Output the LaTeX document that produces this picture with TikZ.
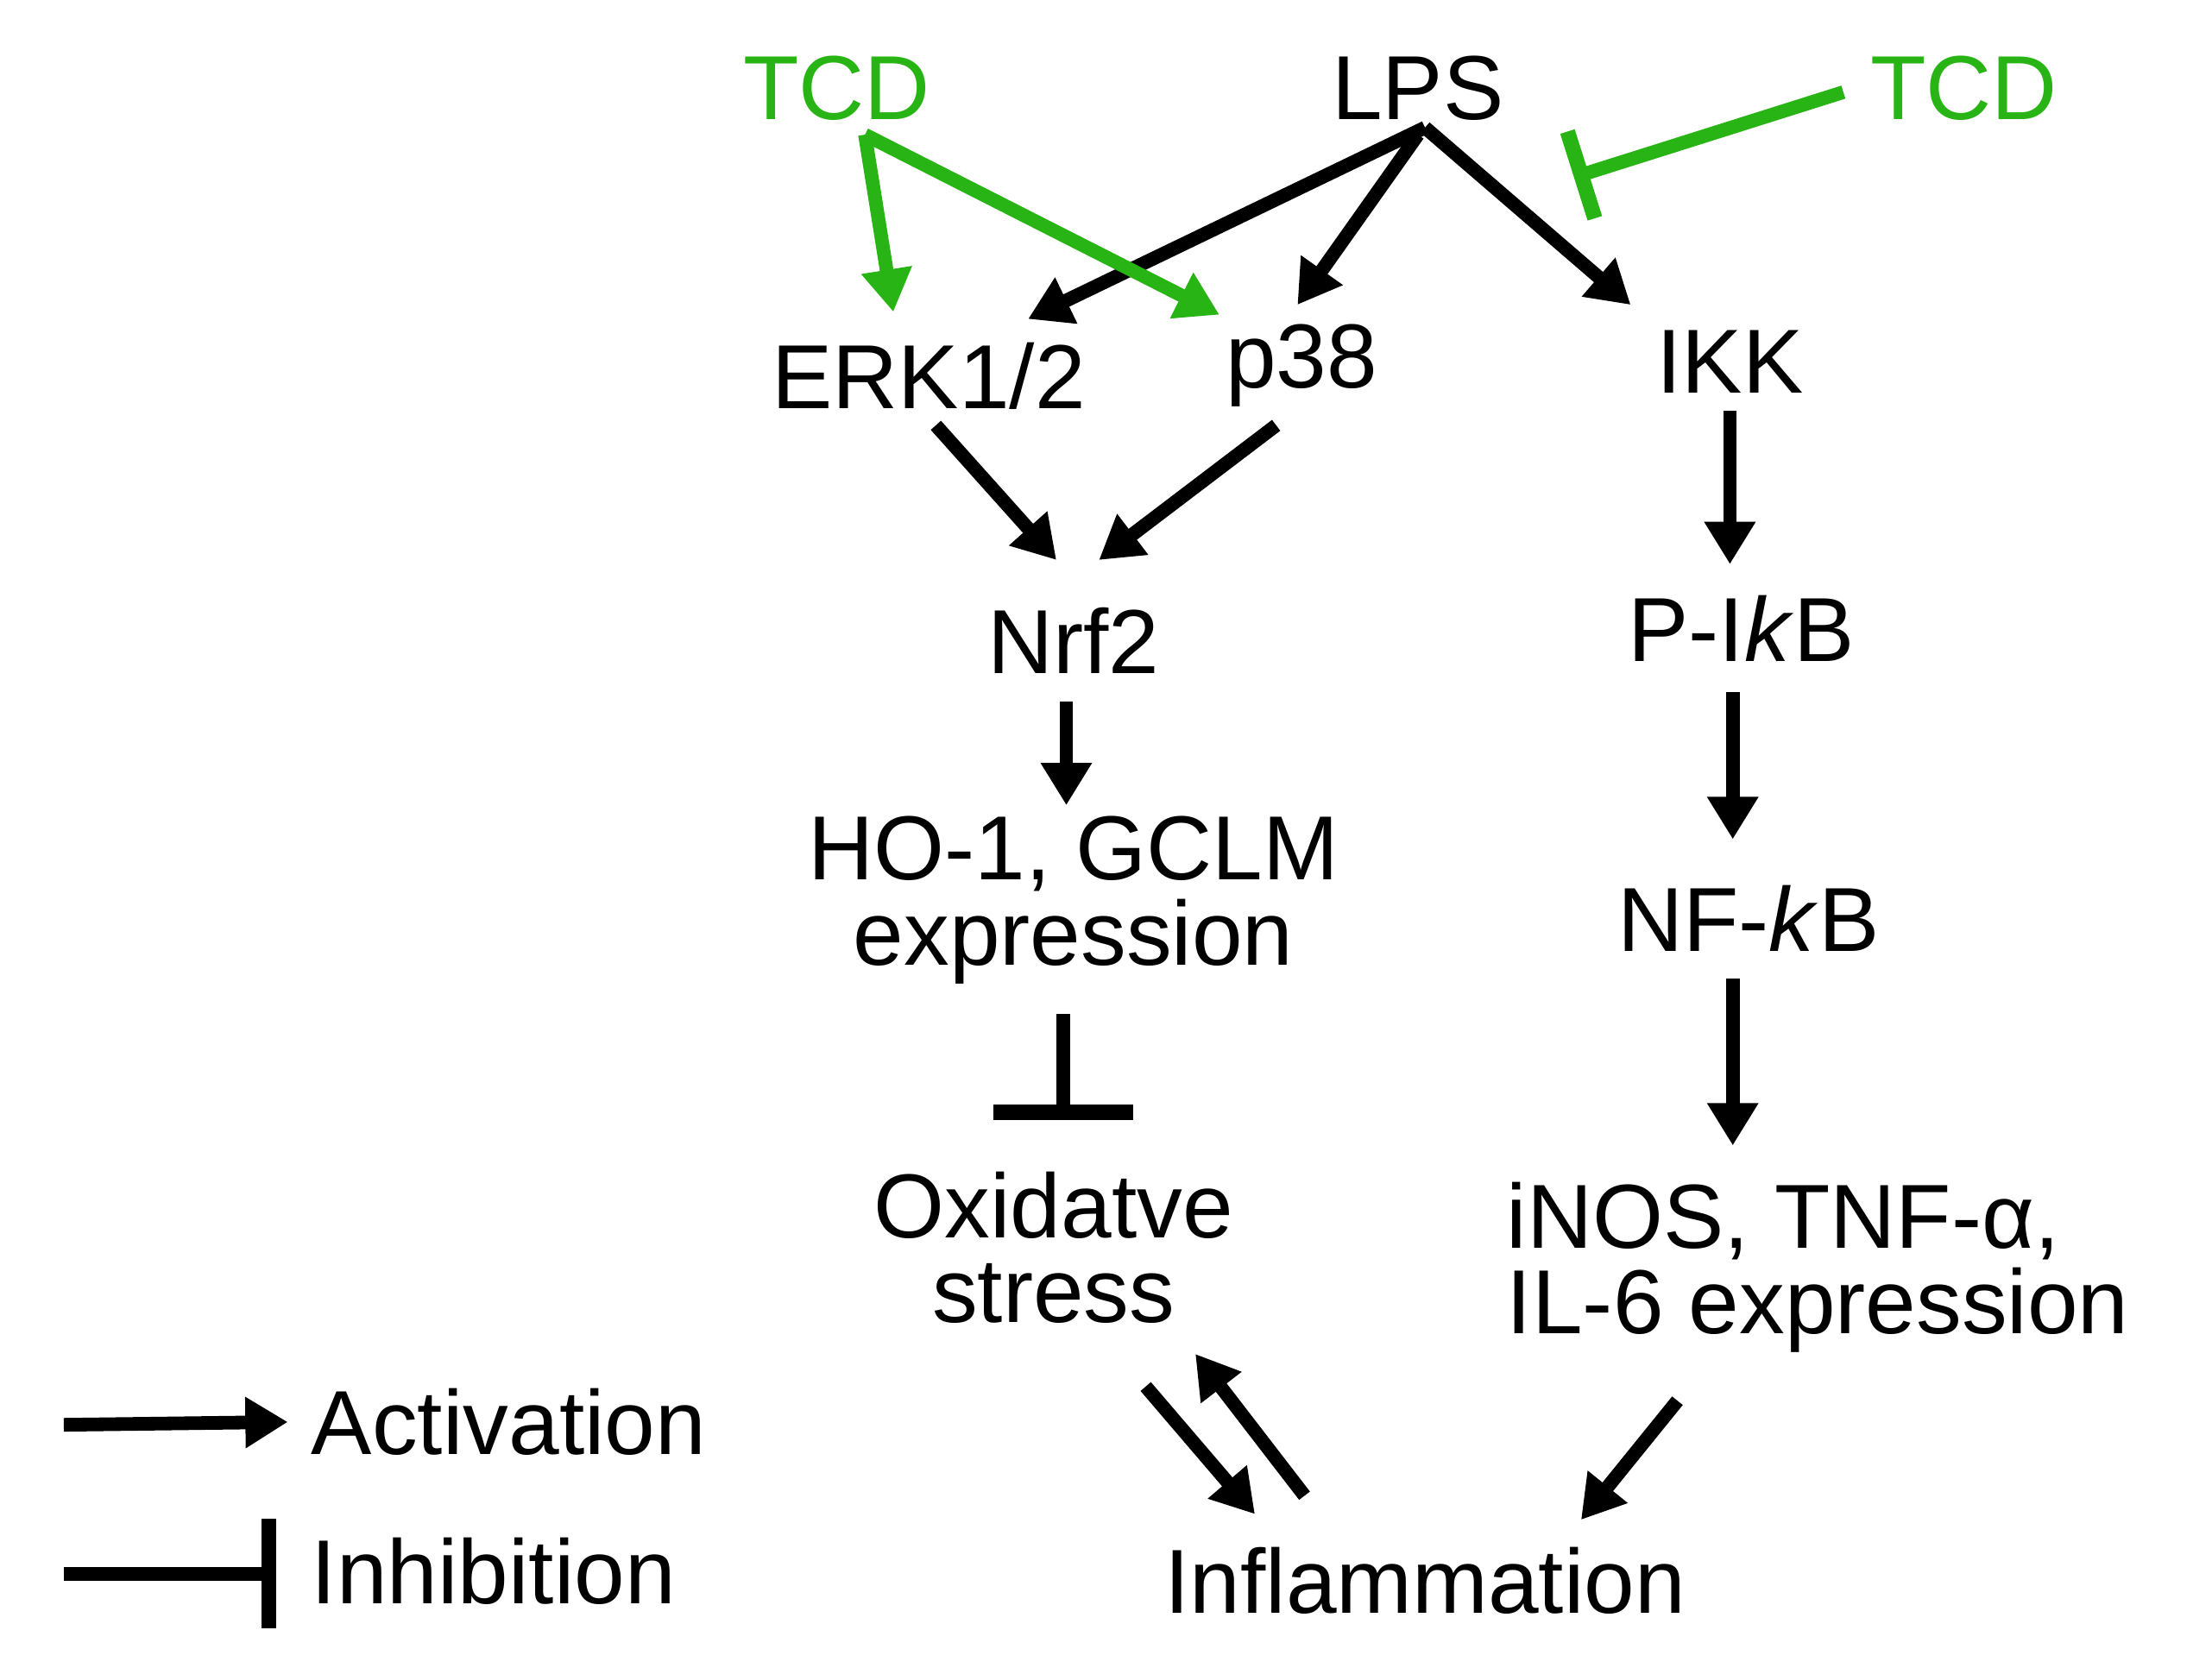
\documentclass[tikz,border=0pt]{standalone}
\usepackage{fontspec}
\setmainfont{Liberation Sans}
\usetikzlibrary{arrows.meta,calc}
\definecolor{tcdgreen}{RGB}{40,180,20}
\tikzset{lbl/.style={font=\fontsize{30}{34}\selectfont, inner sep=2pt, align=center},
  act/.style={line width=4.5pt, -{Triangle[length=14pt,width=16pt]}},
  inh/.style={line width=4.5pt, -{Bar[width=#1,line width=5pt]}}, inh/.default=30pt}
\begin{document}
\begin{tikzpicture}[x=0.01643cm, y=-0.01643cm]
  \useasboundingbox (0,0) rectangle (1560,1176);

  % nodes
  \node[lbl, text=tcdgreen] (tcdL) at (590,62) {TCD};
  \node[lbl] (lps) at (1000,62) {LPS};
  \node[lbl, text=tcdgreen] (tcdR) at (1385,62) {TCD};
  \node[lbl] (erk) at (655,265) {ERK1/2};
  \node[lbl] (p38) at (918,258) {p38};
  \node[lbl] (ikk) at (1220,255) {IKK};
  \node[lbl] (nrf) at (757,452) {Nrf2};
  \node[lbl] (pikb) at (1228,443) {P-I\textit{k}B};
  \node[lbl] (ho) at (757,635) {HO-1, GCLM\\[-6pt]expression};
  \node[lbl] (nfkb) at (1233,648) {NF-\textit{k}B};
  \node[lbl] (ox) at (743,880) {Oxidatve\\[-6pt]stress};
  \node[lbl, align=left, anchor=west] (inos) at (1058,894) {iNOS, TNF-α,\\[-6pt]IL-6 expression};
  \node[lbl] (infl) at (1005,1115) {Inflammation};

  % legend
  \coordinate (a1) at (45,1005);
  \coordinate (b1) at (45,1110);
  \node[lbl, anchor=west] (actL) at (215,1003) {Activation};
  \node[lbl, anchor=west] (inhL) at (215,1108) {Inhibition};
  \draw[act] (a1) -- ($(actL.west)+(-12,0)$);
  \draw[inh=36pt] (b1) -- ($(inhL.west)+(-20,2)$);

  % LPS arrows
  \draw[act] ($(lps)+(5,28)$) -- ($(erk)+(70,-40)$);
  \draw[act] ($(lps)+(0,33)$) -- ($(p38)+(-3,-43)$);
  \draw[act] ($(lps)+(5,28)$) -- ($(ikk)+(-70,-40)$);
  \draw[act, tcdgreen] ($(tcdL)+(20,33)$) -- ($(erk)+(-25,-45)$);
  \draw[act, tcdgreen] ($(tcdL)+(20,33)$) -- ($(p38)+(-58,-36)$);
  \draw[inh, tcdgreen] ($(tcdR)+(-85,3)$) -- ($(lps)+(110,63)$);

  % left branch
  \draw[act] ($(erk)+(5,35)$) -- ($(nrf)+(-12,-57)$);
  \draw[act] ($(p38)+(-18,42)$) -- ($(nrf)+(18,-57)$);
  \draw[act] ($(nrf)+(-5,43)$) -- ($(ho)+(-5,-67)$);
  \draw[inh=46pt] ($(ho)+(-7,80)$) -- ($(ox)+(7,-90)$);
  \draw[act] ($(ox)+(65,98)$) -- ($(infl)+(-120,-47)$);
  \draw[act] ($(infl)+(-85,-60)$) -- ($(ox)+(100,75)$);

  % right branch
  \draw[act] ($(ikk)+(0,35)$) -- ($(pikb)+(-8,-45)$);
  \draw[act] ($(pikb)+(-6,45)$) -- ($(nfkb)+(-11,-56)$);
  \draw[act] ($(nfkb)+(-11,42)$) -- ($(inos.west)+(164,-86)$);
  \draw[act] ($(inos.west)+(125,94)$) -- ($(infl)+(110,-43)$);
\end{tikzpicture}
\end{document}
